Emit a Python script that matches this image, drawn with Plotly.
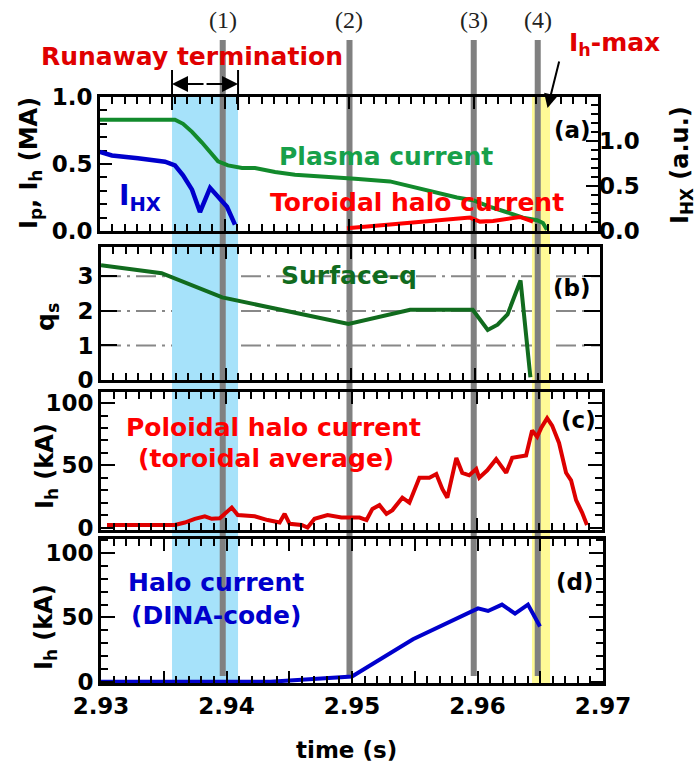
import plotly.graph_objects as go

# ---------------- data ----------------
# (a) plasma current (MA)
ip_t = [2.9300, 2.93602, 2.93667, 2.93739, 2.93819, 2.93884, 2.93948, 2.94028, 2.94141, 2.94245,
        2.94406, 2.94566, 2.94831, 2.95048, 2.95329, 2.95466, 2.95594, 2.95731, 2.95867, 2.95996,
        2.96133, 2.96269, 2.96398, 2.96510, 2.96558, 2.96590]
ip_v = [0.83, 0.83, 0.80, 0.74, 0.66, 0.59, 0.52, 0.49, 0.47, 0.47,
        0.44, 0.42, 0.40, 0.39, 0.37, 0.34, 0.31, 0.28, 0.25, 0.23,
        0.18, 0.14, 0.10, 0.08, 0.06, 0.01]
# (a) toroidal halo current (MA)
iht_t = [2.94984, 2.95466, 2.95972, 2.96052, 2.96157, 2.96373, 2.96478]
iht_v = [0.02, 0.06, 0.10, 0.07, 0.075, 0.105, 0.07]
# (a) I_HX (a.u.)
ihx_t = [2.9300, 2.93096, 2.93305, 2.93522, 2.93602, 2.93667, 2.93739, 2.93803, 2.93884, 2.93948,
         2.94020, 2.94084]
ihx_v = [0.88, 0.84, 0.81, 0.77, 0.73, 0.62, 0.46, 0.21, 0.48, 0.38, 0.27, 0.07]
# (b) surface q
q_t = [2.9300, 2.93486, 2.93972, 2.94984, 2.95478, 2.95980, 2.96100, 2.96179, 2.96259, 2.96363, 2.96442]
q_v = [3.32, 3.09, 2.39, 1.62, 2.03, 2.03, 1.45, 1.60, 1.90, 2.88, 0.08]
q_ref = [1, 2, 3]
# (c) poloidal halo current, toroidal average (kA)
ihp_t = [2.93048, 2.93590, 2.93669, 2.93749, 2.93829, 2.93884, 2.93948, 2.94044, 2.94092, 2.94227,
         2.94331, 2.94426, 2.94466, 2.94506, 2.94602, 2.94649, 2.94705, 2.94809, 2.94920, 2.94968,
         2.95064, 2.95120, 2.95167, 2.95223, 2.95279, 2.95327, 2.95406, 2.95462, 2.95542, 2.95622,
         2.95677, 2.95725, 2.95765, 2.95837, 2.95884, 2.95940, 2.95996, 2.96020, 2.96084, 2.96155,
         2.96235, 2.96283, 2.96394, 2.96442, 2.96482, 2.96514, 2.96562, 2.96602, 2.96657, 2.96713,
         2.96753, 2.96793, 2.96841, 2.96880]
ihp_v = [2, 2, 4, 7, 9, 7, 7.5, 16, 10, 9,
         6, 4, 11, 3, 2, 0, 7, 10, 8, 8,
         8, 6, 15, 18, 11, 14, 24, 20, 40, 40,
         43, 31, 24, 56, 44, 42, 47, 40, 46, 55,
         44, 56, 58, 78, 73, 80, 88, 82, 68, 44,
         38, 22, 12, 2]
# (d) halo current, DINA code (kA)
dina_t = [2.9300, 2.9435, 2.9500, 2.95486, 2.96004, 2.96084, 2.96195, 2.96299, 2.96402, 2.96498]
dina_v = [0, 0, 4, 33, 57, 55, 60, 53, 60, 43]

# event markers
event_t = [2.9397, 2.9498, 2.9597, 2.9648]
event_lbl = ["(1)", "(2)", "(3)", "(4)"]
runaway_span = [2.93566, 2.94092]
ihmax_span = [2.96434, 2.96578]

x_tickvals = [2.930, 2.935, 2.940, 2.945, 2.950, 2.955, 2.960, 2.965, 2.970]
x_ticktext = ["2.93", "", "2.94", "", "2.95", "", "2.96", "", "2.97"]

# ---------------- layout helpers ----------------
W, H = 699, 771
def px(x):
    return x / W
def py(y):
    return 1 - y / H

FONT = "DejaVu Sans"
GREEN = "#128a2c"
GREEN_TXT = "#17a04a"
DKGREEN = "#116b1e"
RED = "#ff0000"
RED2 = "#dd0000"
BLUE = "#0000cc"

fig = go.Figure()
fig.add_trace(go.Scatter(x=ip_t, y=ip_v, mode="lines", line=dict(color=GREEN, width=4), xaxis="x", yaxis="y"))
fig.add_trace(go.Scatter(x=iht_t, y=iht_v, mode="lines", line=dict(color=RED, width=4), xaxis="x", yaxis="y"))
fig.add_trace(go.Scatter(x=ihx_t, y=ihx_v, mode="lines", line=dict(color=BLUE, width=4.5), xaxis="x5", yaxis="y5"))
fig.add_trace(go.Scatter(x=q_t, y=q_v, mode="lines", line=dict(color=DKGREEN, width=4), xaxis="x2", yaxis="y2"))
fig.add_trace(go.Scatter(x=ihp_t, y=ihp_v, mode="lines", line=dict(color=RED2, width=4), xaxis="x3", yaxis="y3"))
fig.add_trace(go.Scatter(x=dina_t, y=dina_v, mode="lines", line=dict(color=BLUE, width=4), xaxis="x4", yaxis="y4"))

tickfont = dict(family=FONT, size=23, color="black", weight="bold")

def xax(domain, anchor, labels=False):
    return dict(domain=domain, anchor=anchor, range=[2.93, 2.97], showgrid=False, zeroline=False,
                automargin=False,
                showline=True, linecolor="black", linewidth=3, mirror="allticks",
                ticks="inside", ticklen=12, tickwidth=2, tickcolor="black",
                tickmode="array", tickvals=x_tickvals, ticktext=x_ticktext, showticklabels=labels,
                tickfont=tickfont,
                minor=dict(dtick=0.001, tick0=2.93, ticks="inside", ticklen=7, tickwidth=2,
                           tickcolor="black", showgrid=False))

def yax(domain, anchor, rng, vals, text, minor=None, mirror="allticks", ticklen=12, **kw):
    d = dict(domain=domain, anchor=anchor, range=rng, showgrid=False, zeroline=False,
             automargin=False,
             showline=True, linecolor="black", linewidth=3, mirror=mirror,
             ticks="inside", ticklen=ticklen, tickwidth=2, tickcolor="black",
             tickmode="array", tickvals=vals, ticktext=text, tickfont=tickfont)
    if minor is not None:
        d["minor"] = dict(dtick=minor, tick0=0, ticks="inside", ticklen=7, tickwidth=2,
                          tickcolor="black", showgrid=False)
    d.update(kw)
    return d

dom_x = [[px(100), px(598)], [px(101), px(600)], [px(101), px(602)], [px(101), px(603)]]
dom_y = [[py(231), py(97)], [py(380), py(247)], [py(530), py(392)], [py(683), py(539)]]

layout = dict(
    template="none",
    width=W, height=H, autosize=False, margin=dict(l=0, r=0, t=0, b=0, pad=0),
    paper_bgcolor="white", plot_bgcolor="rgba(0,0,0,0)", showlegend=False,
    xaxis=xax(dom_x[0], "y"),
    xaxis2=xax(dom_x[1], "y2"),
    xaxis3=xax(dom_x[2], "y3"),
    xaxis4=xax(dom_x[3], "y4", labels=True),
    # companion subplot sharing panel (a)'s area, for the right-hand I_HX scale
    xaxis5=dict(domain=dom_x[0], anchor="y5", range=[2.93, 2.97], visible=False, automargin=False),
    yaxis=yax(dom_y[0], "x", [0, 1.0], [0, 0.5, 1.0], ["0.0", "0.5", "1.0"], minor=0.1, mirror=True),
    yaxis5=yax(dom_y[0], "x5", [0, 1.49], [0, 0.5, 1.0], ["0.0", "0.5", "1.0"], minor=0.1,
               mirror=False, side="right", showline=False),
    yaxis2=yax(dom_y[1], "x2", [0, 3.85], [0, 1, 2, 3], ["0", "1", "2", "3"], ticklen=16),
    yaxis3=yax(dom_y[2], "x3", [-2, 109], [0, 50, 100], ["0", "50", "100"], minor=10, ticklen=14),
    yaxis4=yax(dom_y[3], "x4", [-1, 111], [0, 50, 100], ["0", "50", "100"], minor=10, ticklen=14),
)
fig.update_layout(**layout)

# dash-dot reference lines in panel (b)
for q in q_ref:
    fig.add_shape(type="line", xref="x2 domain", yref="y2", x0=0, x1=1, y0=q, y1=q,
                  line=dict(color="#888888", width=2, dash="20px,6px,3px,6px"), layer="below")

# shaded regions and event lines (through panel d's time axis)
for (t0, t1), col in [(runaway_span, "#a6e2fa"), (ihmax_span, "#fffa96")]:
    fig.add_shape(type="rect", xref="x4", yref="paper", x0=t0, x1=t1, y0=py(683), y1=py(97),
                  fillcolor=col, line=dict(width=0), layer="below")
for t in event_t:
    fig.add_shape(type="rect", xref="x4", yref="paper", x0=t - 0.00024, x1=t + 0.00024,
                  y0=py(676), y1=py(40), fillcolor="#808080", line=dict(width=0), layer="below")
for t, lbl in zip(event_t, event_lbl):
    fig.add_annotation(x=t, y=py(20), xref="x4", yref="paper", text=lbl, showarrow=False,
                       xanchor="center", yanchor="middle",
                       font=dict(family="Liberation Serif", size=24, color="#222222"))
# runaway termination bracket
for t in runaway_span:
    fig.add_shape(type="line", xref="x4", yref="paper", x0=t, x1=t, y0=py(110), y1=py(70),
                  line=dict(color="black", width=2))
px_per_s = (603 - 101) / 0.04
half = (runaway_span[1] - runaway_span[0]) / 2 * px_per_s
fig.add_annotation(x=runaway_span[0], y=py(84), xref="x4", yref="paper", ax=half, ay=0,
                   showarrow=True, arrowhead=2, arrowsize=1.6, arrowwidth=2, arrowcolor="black", text="")
fig.add_annotation(x=runaway_span[1], y=py(84), xref="x4", yref="paper", ax=-half, ay=0,
                   showarrow=True, arrowhead=2, arrowsize=1.6, arrowwidth=2, arrowcolor="black", text="")
# I_h-max arrow
fig.add_annotation(x=ihmax_span[1] - 0.0002, y=py(108), xref="x4", yref="paper", ax=12, ay=-48,
                   showarrow=True, arrowhead=2, arrowsize=1.4, arrowwidth=2, arrowcolor="black", text="")

def txt(x, y, s, color, size=25, **kw):
    fig.add_annotation(x=px(x), y=py(y), xref="paper", yref="paper", text=s, showarrow=False,
                       xanchor="center", yanchor="middle",
                       font=dict(family=FONT, size=size, color=color, weight="bold"), **kw)

txt(192, 57, "Runaway termination", "#e00000")
txt(614, 44, "I<sub>h</sub>-max", "#e00000")
txt(386, 157, "Plasma current", GREEN_TXT)
txt(417, 203, "Toroidal halo current", RED)
txt(140, 198, "I<sub>HX</sub>", BLUE, size=28)
txt(572, 130, "(a)", "black", size=23)
txt(349, 275, "Surface-q", DKGREEN)
txt(572, 288, "(b)", "black", size=23)
txt(273, 427, "Poloidal halo current", RED)
txt(266, 458, "(toroidal average)", RED)
txt(578, 420, "(c)", "black", size=23)
txt(216, 582, "Halo current", BLUE)
txt(216, 615, "(DINA-code)", BLUE)
txt(575, 582, "(d)", "black", size=23)
txt(346, 750, "time (s)", "black", size=23)
# axis titles
txt(30, 163, "I<sub>p</sub>, I<sub>h</sub> (MA)", "black", size=24, textangle=-90)
txt(681, 165, "I<sub>HX</sub> (a.u.)", "black", size=24, textangle=-90)
txt(47, 317, "q<sub>s</sub>", "black", size=25, textangle=-90)
txt(47, 466, "I<sub>h</sub> (kA)", "black", size=24, textangle=-90)
txt(45, 627, "I<sub>h</sub> (kA)", "black", size=24, textangle=-90)

fig.write_html("out.html")
